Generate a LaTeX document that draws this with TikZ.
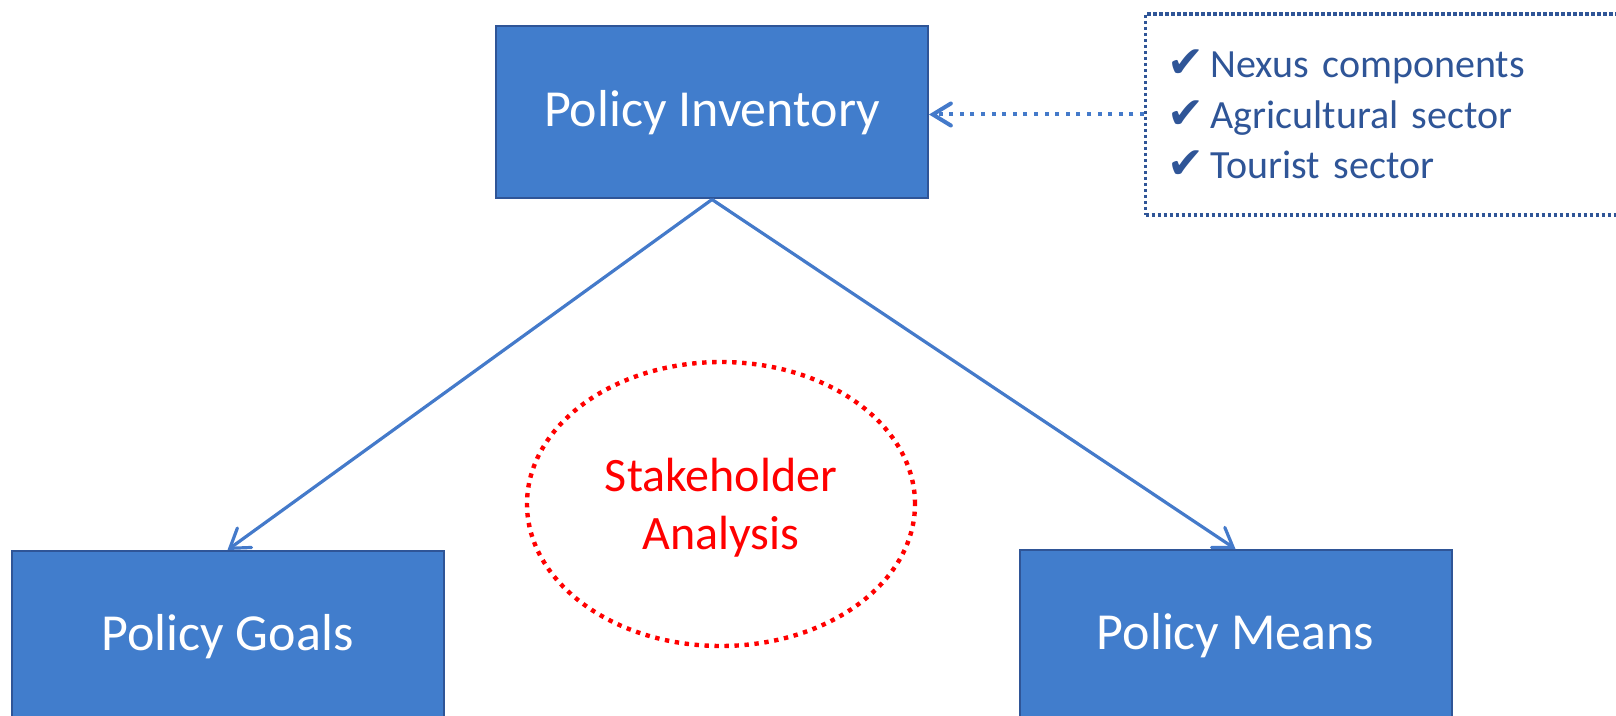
\documentclass[tikz,border=0pt]{standalone}
\usepackage{fontspec}
\setmainfont{Carlito}
\newfontfamily\checkfont{DejaVu Sans}
\usetikzlibrary{arrows.meta,shapes.geometric}

\definecolor{boxfill}{RGB}{65,125,204}
\definecolor{boxline}{RGB}{47,85,151}
\definecolor{linkblue}{RGB}{68,122,202}
\definecolor{listblue}{RGB}{47,85,151}

\newcommand{\tick}{{\checkfont\fontsize{22}{25.25}\selectfont ✔}\hspace{3pt}}

\tikzset{every picture/.style={line width=0.75pt}}
\tikzset{
	policy box/.style={draw=boxline, line width=1pt, fill=boxfill, text=white,
		minimum width=216pt, minimum height=86pt, inner sep=0pt,
		font=\fontsize{26}{31}\selectfont},
	list box/.style={draw=listblue, line width=1.6pt, dash pattern=on 1.6pt off 1.4pt,
		text=listblue, align=left, text width=250pt, inner xsep=11pt,
		minimum height=100.5pt, font=\fontsize{20}{25.25}\selectfont},
	stake ellipse/.style={ellipse, draw=red, line width=2.2pt, dash pattern=on 2.2pt off 2.8pt,
		text=red, align=center, minimum width=194pt, minimum height=142pt, inner sep=0pt,
		text depth=-4pt, font=\fontsize{24}{29}\selectfont},
	link/.style={draw=linkblue, line width=1.6pt,
		-{Straight Barb[length=9pt,width=12pt,line cap=round]}},
	hint/.style={draw=linkblue, line width=2pt, dash pattern=on 2pt off 3.3pt,
		-{Straight Barb[length=9pt,width=11pt,line cap=round]}}}

\begin{document}
\begin{tikzpicture}[x=0.5pt,y=0.5pt,yscale=-1,xscale=1]
	\clip (0,0) rectangle (1616,716);

	% Boxes
	\node (inv) [policy box] at (712,112.5) {Policy Inventory};
	\node (goals) [policy box] at (227.5,637) {Policy Goals};
	\node (means) [policy box] at (1235.5,636) {Policy Means};

	% Checklist
	\node (list) [list box, anchor=west] at (1144,114.5)
		{\tick Nexus components\\ \tick Agricultural sector\\ \tick Tourist sector};

	% Ellipse
	\node (stake) [stake ellipse] at (721,504) {Stakeholder\\ Analysis};

	% Connectors
	\draw [link] (inv.south) -- (goals.north);
	\draw [link] (inv.south) -- (means.north);
	\draw [hint] (list.west) -- (list.west -| inv.east);

\end{tikzpicture}
\end{document}
